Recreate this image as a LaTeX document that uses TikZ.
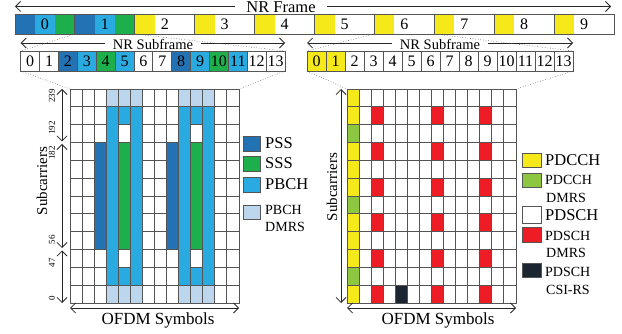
\documentclass[tikz,border=0pt]{standalone}
\usepackage{fontspec}
\setmainfont{Liberation Serif}
\usetikzlibrary{arrows.meta}
\definecolor{pssc}{HTML}{2272B4}
\definecolor{pbchc}{HTML}{29ABE2}
\definecolor{sssc}{HTML}{1CAF4B}
\definecolor{dmrsc}{HTML}{BCD6EE}
\definecolor{pdcchc}{HTML}{F5E91A}
\definecolor{pdcchdc}{HTML}{8DC63F}
\definecolor{pdschdc}{HTML}{EE1C25}
\definecolor{csic}{HTML}{1B2631}
\definecolor{linec}{HTML}{555555}
\newcommand{\myfs}[1]{\fontsize{#1}{#1}\selectfont}
\newcommand{\rgL}[4]{\draw[cell,fill=#4] ({70+12.07*#1},{89+17.83*#2}) rectangle ({82.07+12.07*#1},{106.83+17.83*#3});}
\newcommand{\rgR}[4]{\draw[cell,fill=#4] ({347+12.07*#1},{89+17.83*#2}) rectangle ({359.07+12.07*#1},{106.83+17.83*#3});}
\begin{document}
\begin{tikzpicture}[x=1pt,y=-1pt,
  tip/.style={-{Straight Barb[length=5pt,width=10pt]}, line width=0.8pt, black!85},
  dtip/.style={{Straight Barb[length=5pt,width=10pt]}-{Straight Barb[length=5pt,width=10pt]}, line width=0.8pt, black!85},
  dots/.style={dotted, black!60, line width=0.6pt},
  cell/.style={draw=linec, line width=0.9pt},
  bigtxt/.style={font=\myfs{17}, inner sep=0pt},
  midtxt/.style={font=\myfs{14.5}, inner sep=0pt},
  digit/.style={font=\myfs{16}, inner sep=0pt},
  axlbl/.style={font=\myfs{9}, inner sep=0pt, rotate=90},
  sidelbl/.style={font=\myfs{15}, inner sep=0pt, rotate=90},
  legtxt/.style={font=\myfs{16.5}, inner sep=0pt, anchor=west},
  legtwo/.style={font=\myfs{14}, inner sep=0pt, anchor=west},
]
\useasboundingbox (0,0) rectangle (622,334);
% ---------- NR Frame
\foreach \i in {0,...,9}{
  \pgfmathsetmacro{\xa}{15+59.9*\i}
  \ifnum\i<2
    \fill[pssc] (\xa,14) rectangle ++(20,20);
    \fill[pbchc] (\xa+20,14) rectangle ++(20,20);
    \fill[sssc] (\xa+40,14) rectangle ++(19.9,20);
  \else
    \fill[pdcchc] (\xa,14) rectangle ++(20,20);
  \fi
  \draw[cell] (\xa,14) rectangle ++(59.9,20);
  \node[digit] (f\i) at (\xa+30,24.5) {\i};
}
\node[bigtxt, font=\myfs{16.5}] (nrf) at (281,7.2) {NR Frame};
\coordinate (nrfl) at (15,6.5);
\coordinate (nrfr) at (611,6.5);
\draw[tip] ([xshift=-11pt]nrf.west |- nrfl) -- (nrfl);
\draw[tip] ([xshift=11pt]nrf.east |- nrfr) -- (nrfr);
% ---------- Subframes
\foreach \c/\col in {0/white,1/white,2/pssc,3/pbchc,4/sssc,5/pbchc,6/white,7/white,8/pssc,9/pbchc,10/sssc,11/pbchc,12/white,13/white}{
  \pgfmathsetmacro{\xa}{20.7+18.88*\c}
  \draw[cell, fill=\col] (\xa,51) rectangle ++(18.88,20);
  \node[digit] (ls\c) at (\xa+9.44,61.5) {\c};
}
\foreach \c/\col in {0/pdcchc,1/pdcchc,2/white,3/white,4/white,5/white,6/white,7/white,8/white,9/white,10/white,11/white,12/white,13/white}{
  \pgfmathsetmacro{\xa}{307+19*\c}
  \draw[cell, fill=\col] (\xa,51) rectangle ++(19,20);
  \node[digit] (rs\c) at (\xa+9.5,61.5) {\c};
}
\node[midtxt] (lsub) at (153,44) {NR Subframe};
\coordinate (lsubl) at (20.7,43);
\coordinate (lsubr) at (285,43);
\draw[tip] ([xshift=-8pt]lsub.west |- lsubl) -- (lsubl);
\draw[tip] ([xshift=8pt]lsub.east |- lsubr) -- (lsubr);
\node[midtxt] (rsub) at (440,44) {NR Subframe};
\coordinate (rsubl) at (307,43);
\coordinate (rsubr) at (573,43);
\draw[tip] ([xshift=-8pt]rsub.west |- rsubl) -- (rsubl);
\draw[tip] ([xshift=8pt]rsub.east |- rsubr) -- (rsubr);
% dotted zoom lines
\coordinate (d1a) at (75,34);   \coordinate (d1b) at (20.7,51);
\coordinate (d2a) at (135,34);  \coordinate (d2b) at (285,51);
\coordinate (d3a) at (374,34);  \coordinate (d3b) at (307,51);
\coordinate (d4a) at (434,34);  \coordinate (d4b) at (573,51);
\coordinate (d5a) at (20.7,71); \coordinate (d5b) at (70,89);
\coordinate (d6a) at (285,71);  \coordinate (d6b) at (239,89);
\coordinate (d7a) at (307,71);  \coordinate (d7b) at (347,89);
\coordinate (d8a) at (573,71);  \coordinate (d8b) at (516,89);
\foreach \k in {1,...,8}{\draw[dots] (d\k a) -- (d\k b);}
% ---------- Left resource grid
\foreach \r in {0,...,11}{\foreach \c in {0,...,13}{\rgL{\c}{\r}{\r}{white}}}
\foreach \c in {3,4,5,9,10,11}{\rgL{\c}{0}{0}{dmrsc}\rgL{\c}{11}{11}{dmrsc}}
\foreach \c in {3,5,9,11}{\rgL{\c}{1}{10}{pbchc}}
\foreach \c in {4,10}{\rgL{\c}{1}{1}{pbchc}\rgL{\c}{10}{10}{pbchc}\rgL{\c}{3}{8}{sssc}}
\foreach \c in {2,8}{\rgL{\c}{3}{8}{pssc}}
% ---------- Right resource grid
\foreach \r in {0,...,11}{\foreach \c in {0,...,13}{\rgR{\c}{\r}{\r}{white}}}
\rgR{0}{0}{11}{pdcchc}
\foreach \r in {2,6,10}{\rgR{0}{\r}{\r}{pdcchdc}}
\foreach \r in {0,...,11}{\rgR{0}{\r}{\r}{none}}
\foreach \c in {2,7,11}{\foreach \r in {1,3,5,7,9,11}{\rgR{\c}{\r}{\r}{pdschdc}}}
\rgR{4}{11}{11}{csic}
% ---------- Left axes
\coordinate (la1) at (62,89);    \coordinate (la2) at (62,141.5);
\coordinate (la3) at (62,144);   \coordinate (la4) at (62,248);
\coordinate (la5) at (62,250.5); \coordinate (la6) at (62,303);
\draw[dtip] (la1) -- (la2);
\draw[dtip] (la3) -- (la4);
\draw[dtip] (la5) -- (la6);
\node[axlbl] (t239) at (52,96) {239};
\node[axlbl] (t192) at (52,128) {192};
\node[axlbl] (t182) at (52,153) {182};
\node[axlbl] (t56) at (52,240) {56};
\node[axlbl] (t47) at (52,263) {47};
\node[axlbl] (t0) at (52,298) {0};
\node[sidelbl] (lsc) at (42,181) {Subcarriers};
\coordinate (lo1) at (70,308); \coordinate (lo2) at (239,308);
\draw[dtip] (lo1) -- (lo2);
\node[bigtxt] (lofdm) at (158,320) {OFDM Symbols};
% ---------- Right axes
\coordinate (ra1) at (341,89); \coordinate (ra2) at (341,303);
\draw[dtip] (ra1) -- (ra2);
\node[sidelbl] (rsc) at (332,187) {Subcarriers};
\coordinate (ro1) at (347,308); \coordinate (ro2) at (516,308);
\draw[dtip] (ro1) -- (ro2);
\node[bigtxt] (rofdm) at (438,320) {OFDM Symbols};
% ---------- Left legend
\draw[cell, fill=pssc] (243,136) rectangle (260,151);
\node[legtxt] (lgpss) at (265,143.5) {PSS};
\draw[cell, fill=sssc] (243,156) rectangle (260,171);
\node[legtxt] (lgsss) at (265,163.5) {SSS};
\draw[cell, fill=pbchc] (243,177) rectangle (260,192);
\node[legtxt] (lgpbch) at (265,184.5) {PBCH};
\draw[cell, fill=dmrsc] (243,205) rectangle (260,219);
\node[legtwo] (lgpd1) at (265,210) {PBCH};
\node[legtwo] (lgpd2) at (265,227) {DMRS};
% ---------- Right legend
\draw[cell, fill=pdcchc] (522,153) rectangle (541,167);
\node[legtxt] (rg1) at (545,160) {PDCCH};
\draw[cell, fill=pdcchdc] (522,173) rectangle (541,187);
\node[legtwo] (rg2a) at (545,180) {PDCCH};
\node[legtwo] (rg2b) at (546,198) {DMRS};
\draw[cell, fill=white] (522,206) rectangle (541,223);
\node[legtxt] (rg3) at (545,215) {PDSCH};
\draw[cell, fill=pdschdc] (522,227) rectangle (541,242);
\node[legtwo] (rg4a) at (545,236) {PDSCH};
\node[legtwo] (rg4b) at (546,253) {DMRS};
\draw[cell, fill=csic] (522,263) rectangle (541,277);
\node[legtwo] (rg5a) at (545,272) {PDSCH};
\node[legtwo] (rg5b) at (546,290) {CSI-RS};
\end{tikzpicture}
\end{document}
